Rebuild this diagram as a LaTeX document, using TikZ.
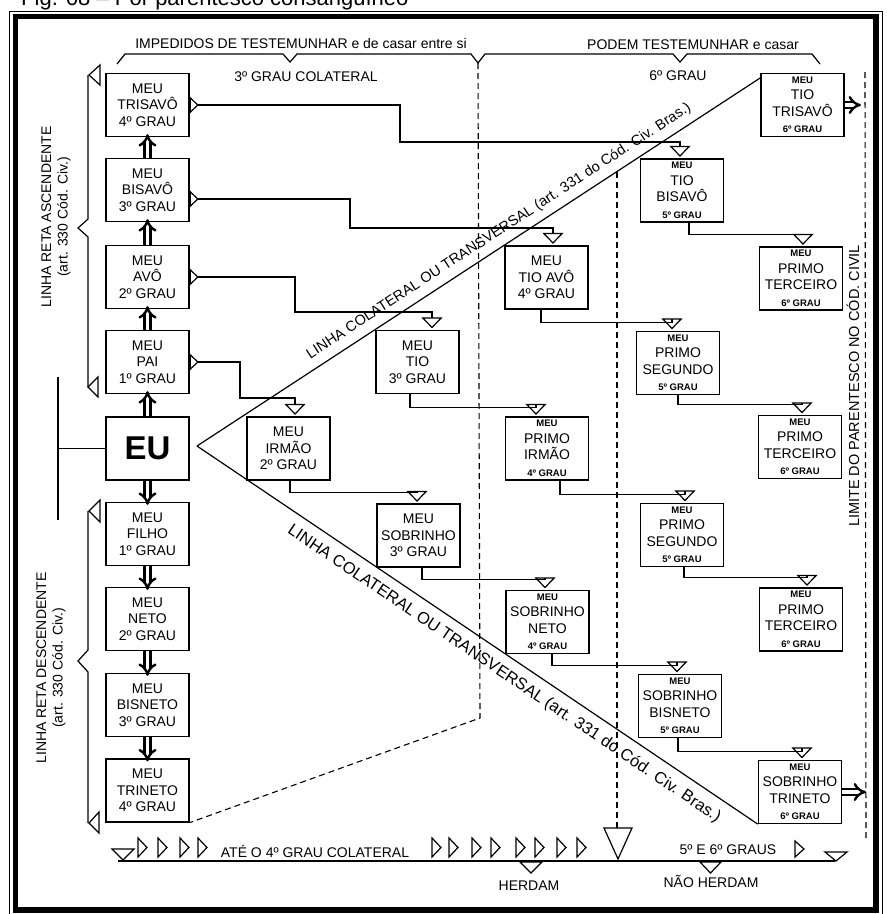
\documentclass[tikz,border=0pt]{standalone}
\usepackage{fontspec}
\setmainfont{Liberation Sans}
\usetikzlibrary{arrows.meta}

\newcommand{\duza}{\fontsize{14}{16.5}\selectfont}
\newcommand{\mala}{\fontsize{9.5}{11}\selectfont\bfseries}

\tikzset{
	kwadrat/.style={draw, line width=1.3pt, minimum width=83pt, minimum height=63pt, inner sep=1pt, align=center},
	linia/.style={line width=1.2pt},
	lacznik/.style={line width=1.2pt, -{Triangle[open, length=11pt, width=21pt]}, shorten >=1.5pt},
	wyjscie/.style={line width=1.2pt, {Triangle[open, reversed, length=9pt, width=17pt]}-{Triangle[open, length=11pt, width=21pt]}, shorten >=1.5pt},
	podwojna/.style={double, double distance=3.5pt, line width=2.4pt, -{Implies}, shorten >=-3pt, xshift=-2pt},
	kreski/.style={line width=1.1pt, dash pattern=on 6pt off 4pt}
}

\begin{document}
\begin{tikzpicture}[x=1pt, y=-1pt, font=\duza]
	\useasboundingbox (0,0) rectangle (887,914);
	\clip (0,0) rectangle (887,914);
	
	% Ramka
	\draw[line width=1pt] (9.5,11) rectangle (882,920);
	\draw[line width=5.5pt] (15.5,16.5) rectangle (876,910);
	
	% Tytul
	\node[anchor=base west, inner sep=0pt, font=\fontsize{22}{24}\selectfont] (tytul) at (21,5.5) {Fig. 08 – Por parentesco consanguíneo};
	
	% Klamry u gory
	\coordinate (K1) at (290,62);
	\coordinate (K2) at (478,63);
	\coordinate (K3) at (680,62);
	\draw[linia] (117,64) -- (125,54) -- (283,54) -- (K1) -- (297,54) -- (471,54) -- (K2) -- (485,54) -- (673,54) -- (K3) -- (687,54) -- (812,54) -- (820,64);
	\node[anchor=base] (impedidos) at (301,48) {IMPEDIDOS DE TESTEMUNHAR e de casar entre si};
	\node[anchor=base] (grau3) at (306,81) {3º GRAU COLATERAL};
	\node[anchor=base] (podem) at (693,49) {PODEM TESTEMUNHAR e casar};
	\node[anchor=base] (grau6) at (678,80) {6º GRAU};
	
	% Linia prosta
	\node[kwadrat] (trisavo) at (147.5,105) {MEU\\TRISAVÔ\\4º GRAU};
	\node[kwadrat] (bisavo) at (147.5,190) {MEU\\BISAVÔ\\3º GRAU};
	\node[kwadrat] (avo) at (147.5,277) {MEU\\AVÔ\\2º GRAU};
	\node[kwadrat] (pai) at (147.5,362) {MEU\\PAI\\1º GRAU};
	\node[kwadrat, font=\fontsize{33}{35}\selectfont\bfseries] (eu) at (147.5,448.5) {EU};
	\node[kwadrat] (filho) at (147.5,534) {MEU\\FILHO\\1º GRAU};
	\node[kwadrat] (neto) at (147.5,619) {MEU\\NETO\\2º GRAU};
	\node[kwadrat] (bisneto) at (147.5,705) {MEU\\BISNETO\\3º GRAU};
	\node[kwadrat] (trineto) at (147.5,790.5) {MEU\\TRINETO\\4º GRAU};
	
	\draw[podwojna] (eu.north) -- (pai.south);
	\draw[podwojna] (pai.north) -- (avo.south);
	\draw[podwojna] (avo.north) -- (bisavo.south);
	\draw[podwojna] (bisavo.north) -- (trisavo.south);
	\draw[podwojna] (eu.south) -- (filho.north);
	\draw[podwojna] (filho.south) -- (neto.north);
	\draw[podwojna] (neto.south) -- (bisneto.north);
	\draw[podwojna] (bisneto.south) -- (trineto.north);
	
	% Klamry z lewej
	\draw[linia] (100,65) -- (89,75) -- (100,85) -- cycle;
	\draw[linia] (88,75) -- (88,219) -- (78,228) -- (88,237) -- (88,387);
	\draw[linia] (98,377) -- (88,387) -- (98,397) -- cycle;
	\node[rotate=90, align=center] (ascendente) at (56,217) {LINHA RETA ASCENDENTE\\(art. 330 Cód. Civ.)};
	\draw[linia] (100,500) -- (89,511) -- (100,522) -- cycle;
	\draw[linia] (88,511) -- (88,650) -- (78,661) -- (88,672) -- (88,823);
	\draw[linia] (99,812) -- (89,823) -- (99,833) -- cycle;
	\node[rotate=90, align=center] (descendente) at (51,668) {LINHA RETA DESCENDENTE\\(art. 330 Cód. Civ.)};
	\coordinate (R1) at (58,377);
	\coordinate (R2) at (58,520);
	\draw[linia] (R1) -- (R2);
	\draw[linia] (eu.west) -- (eu.west -| R1);
	
	% Linia boczna
	\node[kwadrat] (irmao) at (288.5,448.5) {MEU\\IRMÃO\\2º GRAU};
	\node[kwadrat] (tio) at (417.5,362) {MEU\\TIO\\3º GRAU};
	\node[kwadrat] (sobrinho) at (418.5,535.5) {MEU\\SOBRINHO\\3º GRAU};
	\node[kwadrat] (tioavo) at (546.5,277.5) {MEU\\TIO AVÔ\\4º GRAU};
	\node[kwadrat] (primoirmao) at (547,448.5) {{\mala MEU}\\PRIMO\\IRMÃO\\{\mala 4º GRAU}};
	\node[kwadrat] (sobrinhoneto) at (547.5,622) {{\mala MEU}\\SOBRINHO\\NETO\\{\mala 4º GRAU}};
	\node[kwadrat] (tiobisavo) at (682,190.5) {{\mala MEU}\\TIO\\BISAVÔ\\{\mala 5º GRAU}};
	\node[kwadrat] (primosegundoA) at (678,363) {{\mala MEU}\\PRIMO\\SEGUNDO\\{\mala 5º GRAU}};
	\node[kwadrat] (primosegundoB) at (682,535) {{\mala MEU}\\PRIMO\\SEGUNDO\\{\mala 5º GRAU}};
	\node[kwadrat] (sobrinhobisneto) at (680,706) {{\mala MEU}\\SOBRINHO\\BISNETO\\{\mala 5º GRAU}};
	\node[kwadrat] (tiotrisavo) at (802.5,105) {{\mala MEU}\\TIO\\TRISAVÔ\\{\mala 6º GRAU}};
	\node[kwadrat] (primoterceiroA) at (801,278.5) {{\mala MEU}\\PRIMO\\TERCEIRO\\{\mala 6º GRAU}};
	\node[kwadrat] (primoterceiroB) at (800,447) {{\mala MEU}\\PRIMO\\TERCEIRO\\{\mala 6º GRAU}};
	\node[kwadrat] (primoterceiroC) at (801,619.5) {{\mala MEU}\\PRIMO\\TERCEIRO\\{\mala 6º GRAU}};
	\node[kwadrat] (sobrinhotrineto) at (800,792) {{\mala MEU}\\SOBRINHO\\TRINETO\\{\mala 6º GRAU}};
	
	% Polaczenia od wstepnych
	\draw[wyjscie] (trisavo.east) -| (400,142) -| ([xshift=-2pt]tiobisavo.north);
	\draw[wyjscie] ([yshift=-9pt]bisavo.east) -| (350,228) -| ([xshift=6.5pt]tioavo.north);
	\draw[wyjscie] (avo.east) -| (295,312) -| ([xshift=14.5pt]tio.north);
	\draw[wyjscie] (pai.east) -| (240,398) -| ([xshift=6.5pt]irmao.north);
	
	% Polaczenia boczne
	\draw[lacznik] ([xshift=1.5pt]irmao.south) -- ++(0,12) -| ([xshift=-1.5pt]sobrinho.north);
	\draw[lacznik] ([xshift=-7.5pt]tio.south) -- ++(0,13) -| ([xshift=-11pt]primoirmao.north);
	\draw[lacznik] ([xshift=3.5pt]sobrinho.south) -- ++(0,12) -| ([xshift=-2.5pt]sobrinhoneto.north);
	\draw[lacznik] ([xshift=-5.5pt]tioavo.south) -- ++(0,13) -| ([xshift=-6pt]primosegundoA.north);
	\draw[lacznik] ([xshift=13pt]primoirmao.south) -- ++(0,14) -| ([xshift=3pt]primosegundoB.north);
	\draw[lacznik] ([xshift=4.5pt]sobrinhoneto.south) -- ++(0,11) -| ([xshift=-3pt]sobrinhobisneto.north);
	\draw[lacznik] ([xshift=7pt]tiobisavo.south) -- ++(0,12) -| ([xshift=2pt]primoterceiroA.north);
	\draw[lacznik] (primosegundoA.south) -- ++(0,9) -| ([xshift=2pt]primoterceiroB.north);
	\draw[lacznik] ([xshift=2pt]primosegundoB.south) -- ++(0,10) -| ([xshift=6pt]primoterceiroC.north);
	\draw[lacznik] ([xshift=-2pt]sobrinhobisneto.south) -- ++(0,13) -| ([xshift=2pt]sobrinhotrineto.north);
	
	% Strzalki na prawo
	\coordinate (W1) at (861,105);
	\coordinate (W2) at (866,792);
	\draw[podwojna, xshift=2pt, shorten >=0pt] (tiotrisavo.east) -- (W1);
	\draw[podwojna, xshift=2pt, shorten >=0pt] (sobrinhotrineto.east) -- (W2);
	
	% Linie kolateralne
	\coordinate (V) at (197,446);
	\draw[linia] (V) -- node[sloped, above, pos=0.55, inner sep=7pt, font=\fontsize{14.5}{16}\selectfont] (kolateral1) {LINHA COLATERAL OU TRANSVERSAL (art. 331 do Cód. Civ. Bras.)} ([yshift=-5pt]tiotrisavo.north west);
	\draw[linia] (V) -- node[sloped, below, pos=0.565, inner sep=9pt, font=\fontsize{16.5}{18}\selectfont] (kolateral2) {LINHA COLATERAL OU TRANSVERSAL (art. 331 do Cód. Civ. Bras.)} (sobrinhotrineto.south west);
	
	% Linie przerywane
	\draw[kreski] (K2) -- (480,718) -- (trineto.south east);
	\draw[kreski] (617,172) -- (617,828);
	\draw[kreski] (865,72) -- (866,840);
	\node[rotate=90, font=\fontsize{14.5}{16}\selectfont] (limite) at (853,386) {LIMITE DO PARENTESCO NO CÓD. CIVIL};
	
	% Os na dole
	\draw[linia] (118,861) -- (835,861);
	\draw[linia] (112,849) -- (134,849) -- (123,860) -- cycle;
	\draw[linia] (825,852) -- (847,852) -- (836,861) -- cycle;
	\draw[linia] (604,828) -- (632,828) -- (618,859) -- cycle;
	\draw[linia] (138,838) -- ++(9,9.5) -- ++(-9,9.5) -- cycle (158,838) -- ++(9,9.5) -- ++(-9,9.5) -- cycle
		(180,838) -- ++(9,9.5) -- ++(-9,9.5) -- cycle (198,838) -- ++(9,9.5) -- ++(-9,9.5) -- cycle
		(432,838) -- ++(9,9.5) -- ++(-9,9.5) -- cycle (449,838) -- ++(9,9.5) -- ++(-9,9.5) -- cycle
		(472,838) -- ++(9,9.5) -- ++(-9,9.5) -- cycle (491,838) -- ++(9,9.5) -- ++(-9,9.5) -- cycle
		(516,838) -- ++(9,9.5) -- ++(-9,9.5) -- cycle (535,838) -- ++(9,9.5) -- ++(-9,9.5) -- cycle
		(557,838) -- ++(9,9.5) -- ++(-9,9.5) -- cycle (577,838) -- ++(9,9.5) -- ++(-9,9.5) -- cycle
		(795,841) -- ++(9,8) -- ++(-9,8) -- cycle;
	\node[anchor=base] (ate) at (315,857) {ATÉ O 4º GRAU COLATERAL};
	\node[anchor=base] (graus56) at (728,854) {5º E 6º GRAUS};
	\draw[linia] (520,862) -- (542,862) -- (531,873) -- cycle;
	\draw[linia] (700,862) -- (721,862) -- (710.5,873) -- cycle;
	\node[anchor=base] (herdam) at (529,890) {HERDAM};
	\node[anchor=base] (naoherdam) at (711,887) {NÃO HERDAM};
\end{tikzpicture}
\end{document}
